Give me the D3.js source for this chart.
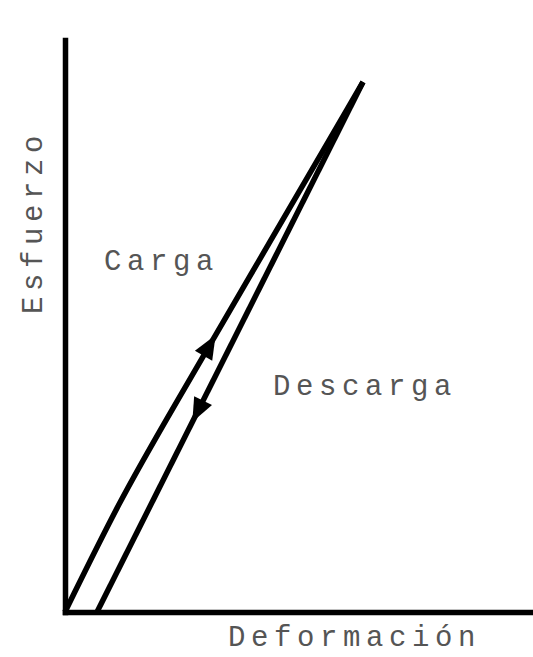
<!DOCTYPE html>
<html>
<head>
<meta charset="utf-8">
<script src="https://cdn.jsdelivr.net/npm/d3@7"></script>
<style>
  html, body { margin: 0; padding: 0; background: #fff; }
  svg text { font-family: "Liberation Mono", "DejaVu Sans Mono", monospace; fill: #555; }
</style>
</head>
<body>
<svg id="chart" width="533" height="657"></svg>
<script>
// Loading branch (deformation, stress) — slightly curved
const loadDeformation = [0, 5.5, 10.1, 20.6, 29.8];
const loadStress      = [0, 11.2, 19.2, 37.2, 53.0];
// Unloading branch — straight back to a residual deformation
const unloadDeformation = [29.8, 3.2];
const unloadStress      = [53.0, 0];
// Stress level where each direction arrow sits
const arrowStress = { load: 27.7, unload: 19.0 };
const labels = { x: "Deformación", y: "Esfuerzo", load: "Carga", unload: "Descarga" };

const svg = d3.select("#chart");
const x = d3.scaleLinear().domain([0, 46.5]).range([65, 530]);
const y = d3.scaleLinear().domain([0, 57.2]).range([612, 40]);

// Axes: bare heavy lines, no ticks
const xAxis = svg.append("g").attr("transform", `translate(0,${y(0)})`)
  .call(d3.axisBottom(x).tickValues([]).tickSizeOuter(0));
const yAxis = svg.append("g").attr("transform", `translate(${x(0)},0)`)
  .call(d3.axisLeft(y).tickValues([]).tickSizeOuter(0));
[xAxis, yAxis].forEach(g => g.select(".domain")
  .attr("stroke", "#000").attr("stroke-width", 5.5).attr("stroke-linecap", "square"));

const curveLine = d3.line().x(d => x(d[0])).y(d => y(d[1])).curve(d3.curveBasis);
const straightLine = d3.line().x(d => x(d[0])).y(d => y(d[1]));
const loadPts = loadDeformation.map((d, i) => [d, loadStress[i]]);
const unloadPts = unloadDeformation.map((d, i) => [d, unloadStress[i]]);

const loadPath = svg.append("path").datum(loadPts).attr("d", curveLine)
  .attr("fill", "none").attr("stroke", "#000").attr("stroke-width", 5.5);
const unloadPath = svg.append("path").datum(unloadPts).attr("d", straightLine)
  .attr("fill", "none").attr("stroke", "#000").attr("stroke-width", 5.5);

// Filled arrowhead on a path at the point whose stress equals s
function arrowAt(pathSel, s) {
  const node = pathSel.node();
  const L = node.getTotalLength();
  const target = y(s);
  let best = 0, bestD = Infinity;
  for (let l = 0; l <= L; l += 0.5) {
    const p = node.getPointAtLength(l);
    const dd = Math.abs(p.y - target);
    if (dd < bestD) { bestD = dd; best = l; }
  }
  const tip = node.getPointAtLength(best);
  const back = node.getPointAtLength(Math.max(0, best - 4));
  let ux = tip.x - back.x, uy = tip.y - back.y;
  const n = Math.hypot(ux, uy); ux /= n; uy /= n;
  const len = 24, hw = 10;
  const bx = tip.x - ux * len, by = tip.y - uy * len;
  const pts = [[tip.x, tip.y], [bx - uy * hw, by + ux * hw], [bx + uy * hw, by - ux * hw]];
  svg.append("path").attr("d", "M" + pts.join("L") + "Z").attr("fill", "#000");
}
arrowAt(loadPath, arrowStress.load);
arrowAt(unloadPath, arrowStress.unload);

// Labels
const fs = 29, ls = 5.6;
svg.append("text").attr("x", 104).attr("y", 270).attr("font-size", fs)
  .attr("letter-spacing", ls).text(labels.load);
svg.append("text").attr("x", 273).attr("y", 395).attr("font-size", fs)
  .attr("letter-spacing", ls).text(labels.unload);
svg.append("text").attr("x", 228).attr("y", 646).attr("font-size", fs)
  .attr("letter-spacing", ls).text(labels.x);
svg.append("text").attr("transform", "translate(42,314) rotate(-90)").attr("font-size", fs)
  .attr("letter-spacing", ls).text(labels.y);
</script>
</body>
</html>
